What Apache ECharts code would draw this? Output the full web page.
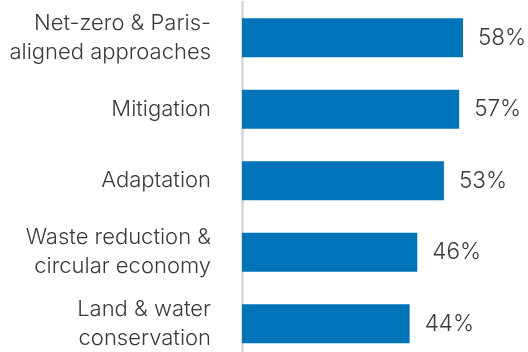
<!DOCTYPE html>
<html>
<head>
<meta charset="utf-8">
<script src="https://cdn.jsdelivr.net/npm/echarts@6/dist/echarts.min.js"></script>
<style>
  html, body { margin: 0; padding: 0; background: #fff; }
  #chart { width: 528px; height: 352px; }
</style>
</head>
<body>
<div id="chart"></div>
<script>
// Share of respondents by climate topic
const categories = [
  'Net-zero & Paris-\naligned approaches',
  'Mitigation',
  'Adaptation',
  'Waste reduction &\ncircular economy',
  'Land & water\nconservation'
];
const shares = [58, 57, 53, 46, 44];

const chart = echarts.init(document.getElementById('chart'), null, { renderer: 'canvas' });
const font = 'Inter, "Noto Sans", sans-serif';

chart.setOption({
  animation: false,
  backgroundColor: '#ffffff',
  grid: {
    left: 242, top: 2, right: 0.25, bottom: -7.5,
    containLabel: false,
    outerBoundsMode: 'none'
  },
  xAxis: {
    type: 'value',
    min: 0,
    max: 75,
    show: false
  },
  yAxis: {
    type: 'category',
    data: categories,
    inverse: true,
    offset: 2,
    axisLine: { show: true, lineStyle: { color: '#d6d6d6', width: 2.5 } },
    axisTick: { show: false },
    axisLabel: {
      margin: 29,
      fontFamily: font,
      fontSize: 22,
      fontWeight: 350,
      lineHeight: 29,
      color: '#3a3a3a',
      align: 'right'
    }
  },
  series: [{
    type: 'bar',
    data: shares,
    barWidth: 39,
    itemStyle: { color: '#0074b9' },
    label: {
      show: true,
      position: 'right',
      distance: 15,
      formatter: '{c}%',
      fontFamily: font,
      fontSize: 22.5,
      fontWeight: 350,
      color: '#3a3a3a'
    }
  }]
});
</script>
</body>
</html>
